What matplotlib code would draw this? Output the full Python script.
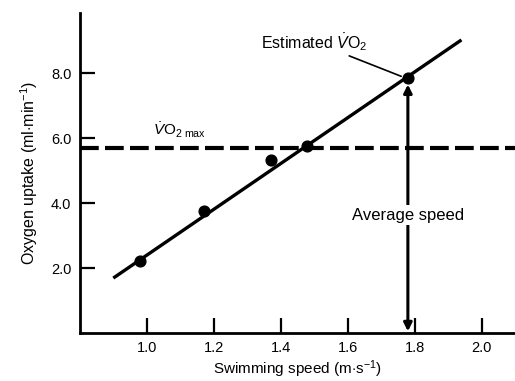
import matplotlib
matplotlib.use('Agg')
import matplotlib.pyplot as plt

plt.rcParams['font.family'] = ['Liberation Sans', 'DejaVu Sans']
plt.rcParams['mathtext.fontset'] = 'custom'
plt.rcParams['mathtext.rm'] = 'Liberation Sans'
plt.rcParams['mathtext.it'] = 'Liberation Sans:italic'

# measured points (swimming speed, oxygen uptake)
speeds = [0.98, 1.17, 1.37, 1.48]
vo2 = [2.22, 3.75, 5.32, 5.75]

# fitted line end points
line_x = [0.90, 1.94]
line_y = [1.69, 9.02]

# VO2 max and estimated point at average speed
vo2_max = 5.7
avg_speed = 1.78
est_vo2 = 7.85

x_ticks = [1.0, 1.2, 1.4, 1.6, 1.8, 2.0]
y_ticks = [2.0, 4.0, 6.0, 8.0]

fig = plt.figure(figsize=(5.15, 3.81), dpi=100)
ax = fig.add_axes([0.155, 0.126, 0.845, 0.84])

ax.plot(line_x, line_y, color='black', lw=2.4, solid_capstyle='butt')
ax.scatter(speeds, vo2, s=60, color='black', zorder=3)
ax.scatter([avg_speed], [est_vo2], s=60, color='black', zorder=3)

ax.axhline(vo2_max, color='black', lw=3, dashes=(4.5, 1.5))

# double headed arrow for average speed
ax.annotate('', xy=(avg_speed, est_vo2 - 0.2), xytext=(avg_speed, 0.05),
            arrowprops=dict(arrowstyle='<|-|>', color='black', lw=2.2,
                            mutation_scale=12, shrinkA=0, shrinkB=0))
ax.text(avg_speed, 3.63, 'Average speed', ha='center', va='center', fontsize=12,
        bbox=dict(facecolor='white', edgecolor='none', pad=2), zorder=4)

# labels
ax.annotate(r'Estimated $\dot{V}\mathrm{O}_2$', xy=(avg_speed - 0.02, est_vo2 + 0.05),
            xytext=(1.66, 8.95), ha='right', va='center', fontsize=11.5,
            arrowprops=dict(arrowstyle='-', color='black', lw=1.2,
                            shrinkA=0, shrinkB=0))
ax.text(1.02, 5.95, r'$\dot{V}\mathrm{O}_{2\ \mathrm{max}}$', fontsize=11,
        ha='left', va='bottom')

ax.set_xlim(0.8, 2.1)
ax.set_ylim(0, 9.85)
ax.set_xticks(x_ticks)
ax.set_xticklabels([f'{t:.1f}' for t in x_ticks])
ax.set_yticks(y_ticks)
ax.set_yticklabels([f'{t:.1f}' for t in y_ticks])
ax.tick_params(direction='in', length=11, width=1.6, labelsize=10.5, pad=6)

for side in ['top', 'right']:
    ax.spines[side].set_visible(False)
for side in ['left', 'bottom']:
    ax.spines[side].set_linewidth(2)

ax.set_xlabel(r'Swimming speed (m$\cdot$s$^{-1}$)', fontsize=11, labelpad=2)
ax.set_ylabel(r'Oxygen uptake (ml$\cdot$min$^{-1}$)', fontsize=11.5, labelpad=8)

fig.savefig('out.png', dpi=100)
